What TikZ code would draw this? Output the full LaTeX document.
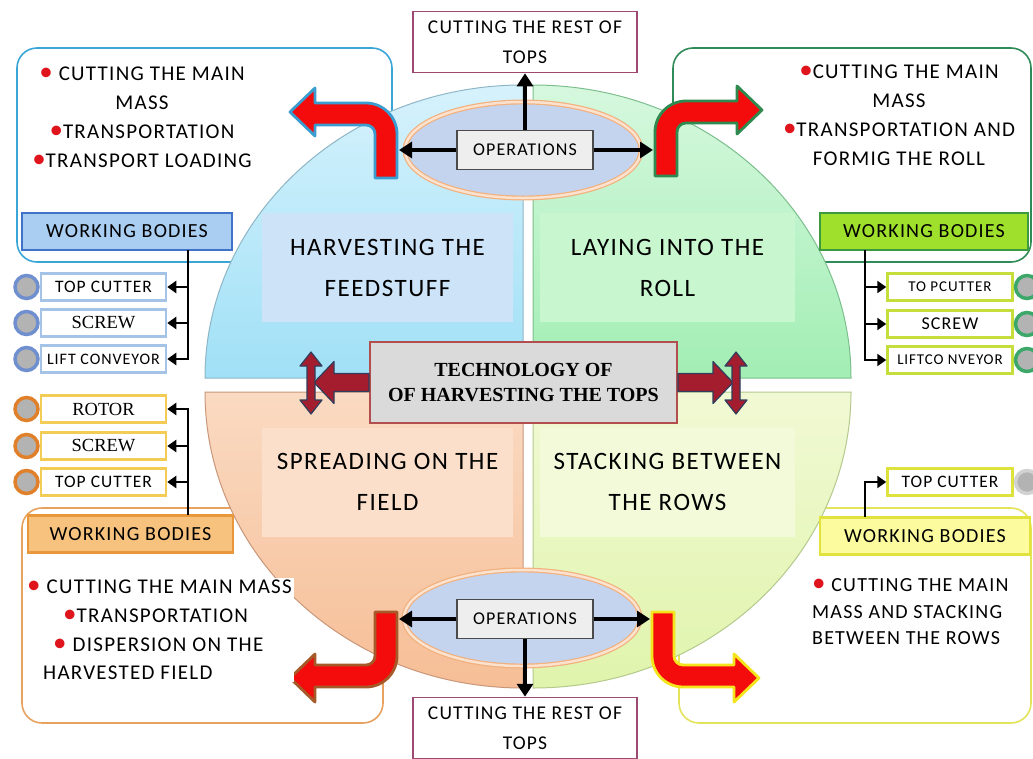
\documentclass[tikz,border=0pt]{standalone}
\usepackage{fontspec}
\setmainfont{Carlito}[LetterSpace=6]
\newfontfamily\serifface{Liberation Serif}
\usetikzlibrary{positioning,shapes.geometric,arrows.meta}

% quadrants of the circle
\definecolor{tlTop}{HTML}{D6F2FC}
\definecolor{tlBot}{HTML}{A0E0F6}
\definecolor{tlInner}{HTML}{CDE3F8}
\definecolor{tlEdge}{HTML}{8DB6C6}
\definecolor{trTop}{HTML}{D6F8DE}
\definecolor{trBot}{HTML}{A2EEB4}
\definecolor{trInner}{HTML}{C8F6CE}
\definecolor{trEdge}{HTML}{7DBE8E}
\definecolor{blTop}{HTML}{FADAC2}
\definecolor{blBot}{HTML}{F6BE96}
\definecolor{blInner}{HTML}{FBDFCB}
\definecolor{blEdge}{HTML}{C9977A}
\definecolor{brTop}{HTML}{F1F9D4}
\definecolor{brBot}{HTML}{E0F4AC}
\definecolor{brInner}{HTML}{F2FAD9}
\definecolor{brEdge}{HTML}{B4C98C}
% outer panels
\definecolor{panelBlue}{HTML}{3AA6D8}
\definecolor{panelGreen}{HTML}{2F8B57}
\definecolor{panelOrange}{HTML}{E6A25E}
\definecolor{panelYellow}{HTML}{E4E45A}
% working bodies
\definecolor{wbBlueFill}{HTML}{A9CEF2}
\definecolor{wbBlueEdge}{HTML}{3F72C8}
\definecolor{wbGreenFill}{HTML}{9EE02C}
\definecolor{wbGreenEdge}{HTML}{3E9A3E}
\definecolor{wbOrangeFill}{HTML}{F6C27E}
\definecolor{wbOrangeEdge}{HTML}{E8983A}
\definecolor{wbYellowFill}{HTML}{FCFC9E}
\definecolor{wbYellowEdge}{HTML}{E2E23E}
\definecolor{itemBlue}{HTML}{A5C3E7}
\definecolor{itemGold}{HTML}{F2CC55}
\definecolor{itemLime}{HTML}{C5DE3C}
\definecolor{itemYellow}{HTML}{DDE23C}
\definecolor{knobFill}{HTML}{B3B3B3}
\definecolor{knobBlue}{HTML}{6F8FCF}
\definecolor{knobOrange}{HTML}{E0802A}
\definecolor{knobGreen}{HTML}{3BA86A}
\definecolor{knobPale}{HTML}{D2D2D2}
% arrows
\definecolor{arrowRed}{HTML}{F40C0C}
\definecolor{edgeCyan}{HTML}{3B9CD0}
\definecolor{edgeGreen}{HTML}{2F8A4F}
\definecolor{edgeBrown}{HTML}{A65A2A}
\definecolor{edgeYellow}{HTML}{F4E41C}
\definecolor{blockRed}{HTML}{A31D2E}
\definecolor{blockEdge}{HTML}{2F3E5C}
% middle parts
\definecolor{ringOrange}{HTML}{F2B07C}
\definecolor{ringLight}{HTML}{FBE2CF}
\definecolor{ringFill}{HTML}{C5D4EE}
\definecolor{opsFill}{HTML}{EEEEEE}
\definecolor{opsEdge}{HTML}{4A4A4A}
\definecolor{restEdge}{HTML}{9C4A72}
\definecolor{titleFill}{HTML}{DADADA}
\definecolor{titleEdge}{HTML}{B24E4E}
\definecolor{dotRed}{HTML}{E0141C}

\newcommand\rdot{\textcolor{dotRed}{\fontsize{27}{27}\selectfont\textbullet}}

\tikzset{
  bendarrow/.pic={\path[pic actions] (11,0) -- (11,-44) arc[start angle=0, end angle=-90, radius=31]
      -- (-71,-75) -- (-71,-90) -- (-96,-66) -- (-71,-42) -- (-71,-53) -- (-20,-53)
      arc[start angle=-90, end angle=0, radius=9] -- (-11,0) -- cycle;},
  blockarrow/.pic={\path[pic actions] (0,-9) -- (-35,-9) -- (-35,-21) -- (-55,0) -- (-35,21) -- (-35,9) -- (0,9) -- cycle;},
  updownarrow/.pic={\path[pic actions] (4,-17) -- (11,-17) -- (0,-31) -- (-11,-17) -- (-4,-17) -- (-4,17)
      -- (-11,17) -- (0,31) -- (11,17) -- (4,17) -- cycle;}
}

\begin{document}
\begin{tikzpicture}[x=1pt, y=-1pt,
    every node/.style={font=\fontsize{21}{29}\selectfont, inner sep=0pt},
    panel/.style={draw, line width=1.6pt, rounded corners=20pt, fill=white},
    quad/.style={line width=1pt},
    quadlabel/.style={align=center, font=\fontsize{25}{41}\selectfont, minimum height=109},
    opsring/.style={ellipse, draw=ringOrange, line width=1.2pt, double=ringLight, double distance=2.5pt, fill=ringFill, minimum width=236, minimum height=96},
    opsbox/.style={draw=opsEdge, line width=1.3pt, fill=opsFill, minimum width=136, minimum height=39, font=\fontsize{18}{20}\selectfont},
    restbox/.style={draw=restEdge, line width=1.5pt, fill=white, minimum width=224, minimum height=61, align=center, font=\fontsize{19.5}{30}\selectfont},
    titlebox/.style={draw=titleEdge, line width=2pt, fill=titleFill, minimum width=307, minimum height=81, align=center, font=\serifface\bfseries\fontsize{20}{25}\selectfont},
    wbox/.style={line width=2.2pt, minimum height=37, font=\fontsize{20}{24}\selectfont},
    itembox/.style={fill=white, line width=2.5pt, minimum width=125, minimum height=27, font=\fontsize{17.5}{20}\selectfont},
    serifitem/.style={font=\serifface\fontsize{18.5}{20}\selectfont},
    knob/.style={circle, fill=knobFill, line width=3.5pt, minimum size=23},
    bendfill/.style={fill=arrowRed, line width=2.8pt, line join=round},
    blockfill/.style={draw=blockEdge, fill=blockRed, line width=1.2pt, line join=round},
    brarrow/.style={line width=2.6pt, -{Triangle[length=9pt,width=12pt]}},
    oparrow/.style={line width=3.2pt, -{Triangle[length=13pt,width=16pt]}}]
    \useasboundingbox (0,0) rectangle (1033,758);

    % Outer panels (behind the circle)
    \node[panel, draw=panelBlue, minimum width=375, minimum height=214] (panelTL) at (204.5,155) {};
    \node[panel, draw=panelGreen, minimum width=358, minimum height=214] (panelTR) at (852,155) {};
    \node[panel, draw=panelOrange, minimum width=361, minimum height=215] (panelBL) at (202.5,615.5) {};
    \node[panel, draw=panelYellow, minimum width=352, minimum height=215] (panelBR) at (855,615.5) {};

    % Circle in four quarters
    \draw[quad, draw=tlEdge, top color=tlTop, bottom color=tlBot] (523,378) -- (205,378)
        arc[start angle=180, end angle=270, x radius=318, y radius=293] -- cycle;
    \draw[quad, draw=trEdge, top color=trTop, bottom color=trBot] (533,378) -- (533,85)
        arc[start angle=270, end angle=360, x radius=318, y radius=293] -- cycle;
    \draw[quad, draw=blEdge, top color=blTop, bottom color=blBot] (523,392) -- (523,688)
        arc[start angle=90, end angle=180, x radius=318, y radius=296] -- cycle;
    \draw[quad, draw=brEdge, top color=brTop, bottom color=brBot] (533,392) -- (851,392)
        arc[start angle=0, end angle=90, x radius=318, y radius=296] -- cycle;

    \node[quadlabel, fill=tlInner, minimum width=251] (harvest) at (387.5,267.5) {HARVESTING THE\\FEEDSTUFF};
    \node[quadlabel, fill=trInner, minimum width=255] (laying) at (667.5,267.5) {LAYING INTO THE\\ROLL};
    \node[quadlabel, fill=blInner, minimum width=251] (spreading) at (387.5,482) {SPREADING ON THE\\FIELD};
    \node[quadlabel, fill=brInner, minimum width=255] (stacking) at (667.5,482) {STACKING BETWEEN\\THE ROWS};

    % Operations, top and bottom
    \node[opsring] (ringT) at (523,150) {};
    \node[opsring] (ringB) at (522,618) {};
    \node[opsbox] (opsT) at (525,150) {OPERATIONS};
    \node[opsbox] (opsB) at (525,619) {OPERATIONS};
    \node[restbox] (restT) at (525,42) {CUTTING THE REST OF\\TOPS};
    \node[restbox] (restB) at (525,728) {CUTTING THE REST OF\\TOPS};

    \pic[bendfill, draw=edgeCyan] at (386,178) {bendarrow};
    \pic[bendfill, draw=edgeGreen, xscale=-1] at (666,176) {bendarrow};
    \pic[bendfill, draw=edgeBrown, yscale=-1] at (386,612) {bendarrow};
    \pic[bendfill, draw=edgeYellow, xscale=-1, yscale=-1] at (663,612) {bendarrow};

    \coordinate (hookTL) at (399,150);
    \coordinate (hookTR) at (653,150);
    \coordinate (hookBL) at (399,619);
    \coordinate (hookBR) at (650,619);
    \draw[oparrow] (opsT) -- (restT);
    \draw[oparrow] (opsT) -- (hookTL);
    \draw[oparrow] (opsT) -- (hookTR);
    \draw[oparrow] (opsB) -- (restB);
    \draw[oparrow] (opsB) -- (hookBL);
    \draw[oparrow] (opsB) -- (hookBR);

    % Technology in the middle
    \node[titlebox] (tech) at (523.5,382.5) {TECHNOLOGY OF\\OF HARVESTING THE TOPS};
    \pic[blockfill] at (tech.west) {blockarrow};
    \pic[blockfill, xscale=-1] at (tech.east) {blockarrow};
    \pic[blockfill] at (311,383) {updownarrow};
    \pic[blockfill] at (736,383) {updownarrow};

    % Working bodies
    \node[wbox, fill=wbBlueFill, draw=wbBlueEdge, minimum width=210] (wbTL) at (127,231.5) {WORKING BODIES};
    \node[wbox, fill=wbGreenFill, draw=wbGreenEdge, minimum width=208] (wbTR) at (924,231.5) {WORKING BODIES};
    \node[wbox, fill=wbOrangeFill, draw=wbOrangeEdge, minimum width=205] (wbBL) at (130.5,534) {WORKING BODIES};
    \node[wbox, fill=wbYellowFill, draw=wbYellowEdge, minimum width=210] (wbBR) at (925,536) {WORKING BODIES};

    \node[itembox, draw=itemBlue] (cutL1) at (103.5,287) {TOP CUTTER};
    \node[itembox, draw=itemBlue, serifitem] (screwL1) at (103.5,323) {SCREW};
    \node[itembox, draw=itemBlue, font=\fontsize{16}{18}\selectfont] (liftL1) at (103.5,359) {LIFT CONVEYOR};
    \node[itembox, draw=itemGold, serifitem] (rotorL) at (103.5,409) {ROTOR};
    \node[itembox, draw=itemGold, serifitem] (screwL2) at (103.5,446) {SCREW};
    \node[itembox, draw=itemGold] (cutL2) at (103.5,482) {TOP CUTTER};
    \node[itembox, draw=itemLime, font=\fontsize{15}{18}\selectfont] (cutR1) at (950,287) {TO PCUTTER};
    \node[itembox, draw=itemLime, font=\fontsize{18}{20}\selectfont] (screwR1) at (950,324) {SCREW};
    \node[itembox, draw=itemLime, font=\fontsize{15}{18}\selectfont] (liftR1) at (950,360) {LIFTCO NVEYOR};
    \node[itembox, draw=itemYellow] (cutR2) at (950,482) {TOP CUTTER};

    \node[knob, draw=knobBlue, left=0pt of cutL1] (knobL1) {};
    \node[knob, draw=knobBlue, left=0pt of screwL1] (knobL2) {};
    \node[knob, draw=knobBlue, left=0pt of liftL1] (knobL3) {};
    \node[knob, draw=knobOrange, left=0pt of rotorL] (knobL4) {};
    \node[knob, draw=knobOrange, left=0pt of screwL2] (knobL5) {};
    \node[knob, draw=knobOrange, left=0pt of cutL2] (knobL6) {};
    \node[knob, draw=knobGreen, right=0pt of cutR1] (knobR1) {};
    \node[knob, draw=knobGreen, right=0pt of screwR1] (knobR2) {};
    \node[knob, draw=knobGreen, right=0pt of liftR1] (knobR3) {};
    \node[knob, draw=knobPale, right=0pt of cutR2] (knobR4) {};

    \coordinate (trunkTL) at (188,250);
    \coordinate (trunkBL) at (188,515);
    \coordinate (trunkTR) at (865,250);
    \coordinate (trunkBR) at (865,517);
    \draw[brarrow] (trunkTL) |- (cutL1);
    \draw[brarrow] (trunkTL) |- (screwL1);
    \draw[brarrow] (trunkTL) |- (liftL1);
    \draw[brarrow] (trunkBL) |- (rotorL);
    \draw[brarrow] (trunkBL) |- (screwL2);
    \draw[brarrow] (trunkBL) |- (cutL2);
    \draw[brarrow] (trunkTR) |- (cutR1);
    \draw[brarrow] (trunkTR) |- (screwR1);
    \draw[brarrow] (trunkTR) |- (liftR1);
    \draw[brarrow] (trunkBR) |- (cutR2);

    % Operation lists
    \node[align=center] (tasksTL) at (142,117)
        {\rdot\ CUTTING THE MAIN\\MASS\\\rdot TRANSPORTATION\\\rdot TRANSPORT LOADING};
    \node[align=center] (tasksTR) at (899,115)
        {\rdot CUTTING THE MAIN\\MASS\\\rdot TRANSPORTATION AND\\FORMIG THE ROLL};
    \node[align=left, anchor=west, fill=white, inner sep=2pt, font=\fontsize{21}{28.7}\selectfont] (tasksBL) at (25,630)
        {\rdot\ CUTTING THE MAIN MASS\\\hspace*{36pt}\rdot TRANSPORTATION\\\hspace*{26pt}\rdot\ DISPERSION ON THE\\\hspace*{16pt}HARVESTED FIELD};
    \node[align=left, anchor=west, font=\fontsize{20}{26.5}\selectfont] (tasksBR) at (812,612)
        {\rdot\ CUTTING THE MAIN\\MASS AND STACKING\\BETWEEN THE ROWS};
\end{tikzpicture}
\end{document}
